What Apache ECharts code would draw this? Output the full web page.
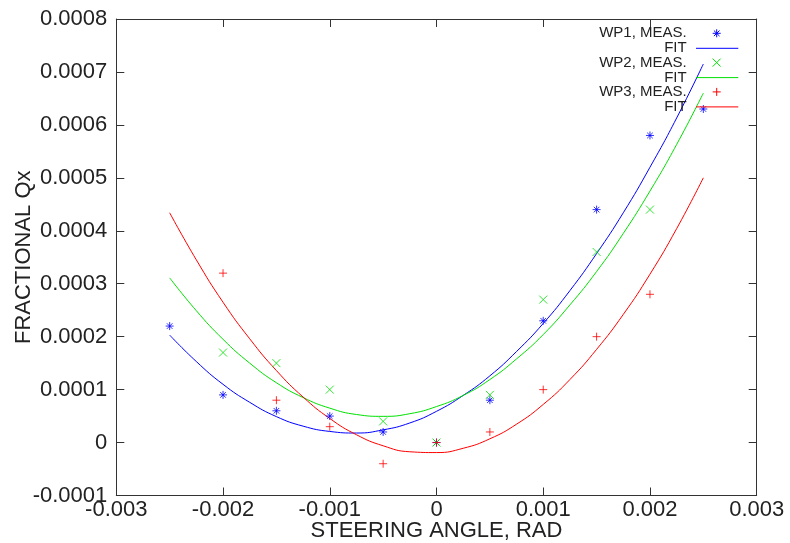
<!DOCTYPE html>
<html>
<head>
<meta charset="utf-8">
<script src="https://cdn.jsdelivr.net/npm/echarts@6/dist/echarts.min.js"></script>
<style>html,body{margin:0;padding:0;background:#fff}#c{width:790px;height:543px}</style>
</head>
<body>
<div id="c"></div>
<script>
// ---- data ----
var measX = [-0.0025, -0.002, -0.0015, -0.001, -0.0005, 0, 0.0005, 0.001, 0.0015, 0.002, 0.0025];
var wp1Meas = [0.00022, 0.00009, 0.00006, 0.00005, 0.00002, 0, 0.00008, 0.00023, 0.00044, 0.00058, 0.00063];
var wp2Meas = [null, 0.00017, 0.00015, 0.0001, 0.00004, 0, 0.00009, 0.00027, 0.00036, 0.00044, null];
var wp3Meas = [null, 0.00032, 0.00008, 0.00003, -0.00004, 0, 0.00002, 0.0001, 0.0002, 0.00028, null];

var fitX = [-0.0025, -0.00225, -0.002, -0.00175, -0.0015, -0.00125, -0.001, -0.00075, -0.0005, -0.00025, 0,
            0.00025, 0.0005, 0.00075, 0.001, 0.00125, 0.0015, 0.00175, 0.002, 0.00225, 0.0025];
var wp1Fit = [0.000203, 0.000153, 0.000110, 0.000076, 0.000049, 0.000031, 0.000021, 0.000018, 0.000024, 0.000037, 0.000059,
              0.000089, 0.000126, 0.000172, 0.000225, 0.000287, 0.000357, 0.000434, 0.000520, 0.000613, 0.000715];
var wp2Fit = [0.000311, 0.000249, 0.000195, 0.000150, 0.000113, 0.000085, 0.000065, 0.000053, 0.0000495, 0.0000545, 0.000068,
              0.000089, 0.000119, 0.000158, 0.000204, 0.000260, 0.000323, 0.000395, 0.000475, 0.000563, 0.000660];
var wp3Fit = [0.000434, 0.000345, 0.000265, 0.000196, 0.000136, 0.000086, 0.0000455, 0.0000148, -0.0000061, -0.0000174, -0.0000189,
              -0.0000108, 0.0000071, 0.0000347, 0.000072, 0.000119, 0.000176, 0.000242, 0.000318, 0.000404, 0.000500];

var legendNames = ['WP1, MEAS.', 'FIT', 'WP2, MEAS.', 'FIT', 'WP3, MEAS.', 'FIT'];
var xTitle = 'STEERING ANGLE, RAD';
var yTitle = 'FRACTIONAL Qx';

// ---- styles ----
var BLUE = '#0000ff', GREEN = '#00e000', RED = '#ff0000';
var FONT = '"Liberation Sans", Arial, sans-serif';
var TXT = '#222';

var SYM_AST = 'path://M0,5L10,5M5,0L5,10M1.5,1.5L8.5,8.5M1.5,8.5L8.5,1.5';
var SYM_X = 'path://M0,0L10,10M0,10L10,0';
var SYM_PLUS = 'path://M0,5L10,5M5,0L5,10';

function pairs(xs, ys) {
  var out = [];
  for (var i = 0; i < xs.length; i++) { if (ys[i] !== null) out.push([xs[i], ys[i]]); }
  return out;
}
function fmt(v) { return String(+v.toFixed(6)); }

var chart = echarts.init(document.getElementById('c'), null, {renderer: 'canvas'});

var GL = 116.3, GR = 756.7, GT = 19, GB = 495.5;

function scatter(name, ys, sym, color) {
  return {
    name: name, type: 'scatter', xAxisIndex: 0, yAxisIndex: 0,
    data: pairs(measX, ys), symbol: sym, symbolSize: 8,
    itemStyle: {color: 'rgba(0,0,0,0)', borderColor: color, borderWidth: 1},
    emphasis: {disabled: true}, silent: true, z: 3
  };
}
function fit(name, ys, color) {
  return {
    name: name, type: 'line', xAxisIndex: 0, yAxisIndex: 0,
    data: pairs(fitX, ys), smooth: true, showSymbol: false, symbol: 'none',
    lineStyle: {color: color, width: 1}, silent: true, z: 2
  };
}

// legend drawn as graphic elements (gnuplot style: text right-aligned, sample right)
var legX = 686.7, legRowY = [33.3, 48.3, 62.6, 77.6, 91.9, 106.9];
var legSamples = [
  {kind: 'sym', sym: 'ast', color: BLUE}, {kind: 'line', color: BLUE},
  {kind: 'sym', sym: 'x', color: GREEN}, {kind: 'line', color: GREEN},
  {kind: 'sym', sym: 'plus', color: RED}, {kind: 'line', color: RED}
];
var graphics = [];
function segs(cx, cy, r, kind) {
  var s = [];
  if (kind === 'plus' || kind === 'ast') { s.push([cx - r, cy, cx + r, cy]); s.push([cx, cy - r, cx, cy + r]); }
  if (kind === 'x' || kind === 'ast') { var d = kind === 'ast' ? r * 0.7 : r; s.push([cx - d, cy - d, cx + d, cy + d]); s.push([cx - d, cy + d, cx + d, cy - d]); }
  return s;
}
for (var i = 0; i < legendNames.length; i++) {
  graphics.push({type: 'text', x: legX, y: legRowY[i], z: 10,
    style: {text: legendNames[i], fill: TXT, font: '15px ' + FONT, textAlign: 'right', textVerticalAlign: 'middle'}});
  var smp = legSamples[i];
  if (smp.kind === 'line') {
    graphics.push({type: 'line', z: 10, shape: {x1: 696, y1: legRowY[i], x2: 738.3, y2: legRowY[i]}, style: {stroke: smp.color, lineWidth: 1}});
  } else {
    var ss = segs(716.7, legRowY[i], 4, smp.sym);
    for (var k = 0; k < ss.length; k++) {
      graphics.push({type: 'line', z: 10, shape: {x1: ss[k][0], y1: ss[k][1], x2: ss[k][2], y2: ss[k][3]}, style: {stroke: smp.color, lineWidth: 1}});
    }
  }
}

var axisLine = {show: true, onZero: false, lineStyle: {color: '#333', width: 1}};
var axisTick = {show: true, inside: true, length: 8, lineStyle: {color: '#333', width: 1}};

var option = {
  animation: false,
  backgroundColor: '#fff',
  grid: {left: GL, right: 790 - GR, top: GT, bottom: 543 - GB, containLabel: false, outerBoundsMode: 'none'},
  xAxis: [
    {type: 'value', position: 'bottom', min: -0.003, max: 0.003, interval: 0.001,
     axisLine: axisLine, axisTick: axisTick, splitLine: {show: false},
     axisLabel: {formatter: fmt, color: TXT, fontSize: 22, fontFamily: FONT, margin: 3},
     name: xTitle, nameLocation: 'middle', nameGap: 24, nameMoveOverlap: false,
     nameTextStyle: {color: TXT, fontSize: 22, fontFamily: FONT}},
    {type: 'value', position: 'top', min: -0.003, max: 0.003, interval: 0.001,
     axisLine: axisLine, axisTick: axisTick, splitLine: {show: false}, axisLabel: {show: false}}
  ],
  yAxis: [
    {type: 'value', position: 'left', min: -0.0001, max: 0.0008, interval: 0.0001,
     axisLine: axisLine, axisTick: axisTick, splitLine: {show: false},
     axisLabel: {formatter: fmt, color: TXT, fontSize: 22, fontFamily: FONT, margin: 9},
     name: yTitle, nameLocation: 'middle', nameGap: 81, nameRotate: 90, nameMoveOverlap: false,
     nameTextStyle: {color: TXT, fontSize: 22, fontFamily: FONT}},
    {type: 'value', position: 'right', min: -0.0001, max: 0.0008, interval: 0.0001,
     axisLine: axisLine, axisTick: axisTick, splitLine: {show: false}, axisLabel: {show: false}}
  ],
  graphic: graphics,
  series: [
    scatter('WP1, MEAS.', wp1Meas, SYM_AST, BLUE),
    fit('WP1 FIT', wp1Fit, BLUE),
    scatter('WP2, MEAS.', wp2Meas, SYM_X, GREEN),
    fit('WP2 FIT', wp2Fit, GREEN),
    scatter('WP3, MEAS.', wp3Meas, SYM_PLUS, RED),
    fit('WP3 FIT', wp3Fit, RED)
  ]
};
chart.setOption(option);
</script>
</body>
</html>
